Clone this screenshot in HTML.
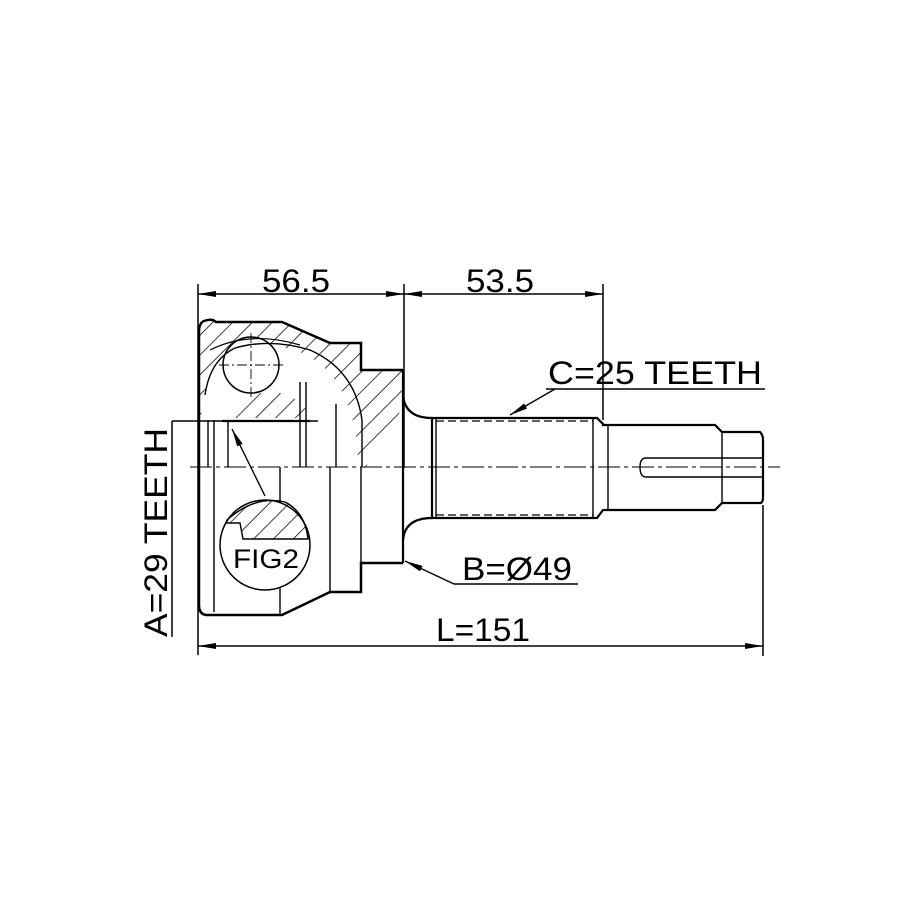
<!DOCTYPE html>
<html><head><style>html,body{margin:0;padding:0;background:#fff}svg{display:block}</style></head><body>
<svg width="915" height="915" viewBox="0 0 915 915" xmlns="http://www.w3.org/2000/svg">
<defs>
<pattern id="h" patternUnits="userSpaceOnUse" width="14" height="14" patternTransform="rotate(45)">
<line x1="0" y1="0" x2="0" y2="14" stroke="#000" stroke-width="1.5"/>
</pattern>
<marker id="a" viewBox="0 0 18 6" refX="18" refY="3" markerWidth="18" markerHeight="6" markerUnits="userSpaceOnUse" orient="auto-start-reverse"><path d="M0,0 L18,3 L0,6z" fill="#000"/></marker>
</defs>
<g fill="none" stroke="#000" font-family="Liberation Sans, sans-serif">
<line x1="198" y1="284" x2="198" y2="655" stroke-width="1.5"/>
<line x1="404" y1="284" x2="404" y2="468" stroke-width="1.5"/>
<line x1="603" y1="284" x2="603" y2="420" stroke-width="1.5"/>
<line x1="763" y1="505" x2="763" y2="656" stroke-width="1.5"/>
<line x1="198" y1="294" x2="404" y2="294" stroke-width="1.5" marker-start="url(#a)" marker-end="url(#a)"/>
<line x1="404" y1="294" x2="603" y2="294" stroke-width="1.5" marker-start="url(#a)" marker-end="url(#a)"/>
<line x1="198" y1="646" x2="763" y2="646" stroke-width="1.5" marker-start="url(#a)" marker-end="url(#a)"/>
<path d="M200,330 Q200,321 212,321 L282,322 L330,343 L361,343 L361,370 L403,370 L403,395 Q403,418 380,440 L366,467 L358,467 Q358,395 318,362 Q300,350 285,348 Q250,345 225,355 Q210,365 205,395 L200,420 Z" fill="url(#h)" stroke="none"/>
<path d="M222,418 Q235,395 268,392 Q300,392 310,418 Z" fill="url(#h)" stroke="none"/>
<circle cx="251" cy="365" r="28" fill="#fff" stroke="#000" stroke-width="1.5"/>
<path d="M403,370 L361,370 L361,343 L330,343 L282,322 L216,322 Q212,318 204,321 Q199,323 199,332 L199,605 Q199,614 206,615 L282,615 L330,592 L361,592 L361,563 L403,563" stroke-width="2.5"/>
<line x1="403" y1="370" x2="403" y2="563" stroke-width="2.2"/>
<path d="M403,395 Q405,418 432,418 M403,540 Q405,518 432,518" stroke-width="2.2"/>
<path d="M205,395 Q210,360 235,348 Q270,338 310,350 Q355,370 362,420 L362,467" stroke-width="1.4"/>
<path d="M210,350 Q250,330 300,345" stroke-width="1.2"/>
<line x1="208" y1="420" x2="208" y2="467" stroke-width="1.4"/>
<line x1="214" y1="420" x2="214" y2="467" stroke-width="1.4"/>
<line x1="228" y1="420" x2="228" y2="467" stroke-width="1.4"/>
<line x1="300" y1="382" x2="300" y2="467" stroke-width="1.4"/>
<line x1="306" y1="382" x2="306" y2="467" stroke-width="1.4"/>
<line x1="336" y1="404" x2="336" y2="467" stroke-width="1.4"/>
<line x1="214" y1="467" x2="214" y2="612" stroke-width="1.4"/>
<line x1="280" y1="467" x2="280" y2="615" stroke-width="1.4"/>
<line x1="330" y1="467" x2="330" y2="592" stroke-width="1.4"/>
<line x1="361" y1="467" x2="361" y2="563" stroke-width="1.4"/>
<line x1="222" y1="421" x2="310" y2="421" stroke-width="2.2"/>
<line x1="172" y1="421" x2="318" y2="421" stroke-width="1.4"/>
<line x1="172" y1="421" x2="172" y2="637" stroke-width="1.5"/>
<line x1="251" y1="333" x2="251" y2="397" stroke-width="0.9" stroke-dasharray="10,3,2,3"/>
<line x1="219" y1="365" x2="283" y2="365" stroke-width="0.9" stroke-dasharray="10,3,2,3"/>
<circle cx="265" cy="545" r="45" fill="#fff" stroke-width="1.5"/>
<path d="M227,520 Q255,495 285,502 Q305,512 308,539 L243,539 L240,523 L226,523 Z" fill="url(#h)" stroke="#000" stroke-width="1.4"/>
<line x1="265" y1="496" x2="232" y2="429" stroke-width="1.4" marker-end="url(#a)"/>
<text x="233" y="568" font-size="27" textLength="66" lengthAdjust="spacingAndGlyphs" fill="#000" stroke="none">FIG2</text>
<path d="M432,418 L597,418 L603,424 L603,425 L608,425 L715,425 L722,432 L760,432 Q763,435 763,440 L763,497 Q763,503 760,503 L722,503 L715,510 L608,510 L603,510 L597,518 L432,518 Z" stroke-width="2.2"/>
<line x1="436" y1="418" x2="436" y2="518" stroke-width="1.4"/>
<line x1="593" y1="418" x2="593" y2="518" stroke-width="1.4"/>
<line x1="608" y1="425" x2="608" y2="510" stroke-width="1.4"/>
<line x1="722" y1="432" x2="722" y2="503" stroke-width="1.4"/>
<line x1="436" y1="421" x2="593" y2="421" stroke-width="1.2" stroke-dasharray="8,4"/>
<line x1="436" y1="515" x2="593" y2="515" stroke-width="1.2" stroke-dasharray="8,4"/>
<path d="M763,458 L646,458 Q640,458 640,467 Q640,477 646,477 L763,477" stroke-width="1.4"/>
<line x1="190" y1="467" x2="780" y2="467" stroke-width="1.1" stroke-dasharray="22,4,4,4"/>
<text x="262" y="292" font-size="32" textLength="68" lengthAdjust="spacingAndGlyphs" fill="#000" stroke="none">56.5</text>
<text x="466" y="292" font-size="32" textLength="68" lengthAdjust="spacingAndGlyphs" fill="#000" stroke="none">53.5</text>
<text x="548" y="384" font-size="32" textLength="214" lengthAdjust="spacingAndGlyphs" fill="#000" stroke="none">C=25 TEETH</text>
<line x1="546" y1="389" x2="765" y2="389" stroke-width="1.4"/>
<line x1="555" y1="389" x2="510" y2="415" stroke-width="1.4" marker-end="url(#a)"/>
<text x="462" y="580" font-size="32" textLength="110" lengthAdjust="spacingAndGlyphs" fill="#000" stroke="none">B=Ø49</text>
<line x1="454" y1="584" x2="578" y2="584" stroke-width="1.4"/>
<line x1="454" y1="584" x2="405" y2="561" stroke-width="1.4" marker-end="url(#a)"/>
<text x="436" y="641" font-size="32" textLength="94" lengthAdjust="spacingAndGlyphs" fill="#000" stroke="none">L=151</text>
<text transform="translate(167,637) rotate(-90)" font-size="32" textLength="209" lengthAdjust="spacingAndGlyphs" fill="#000" stroke="none">A=29 TEETH</text>
</g>
</svg>
</body></html>
